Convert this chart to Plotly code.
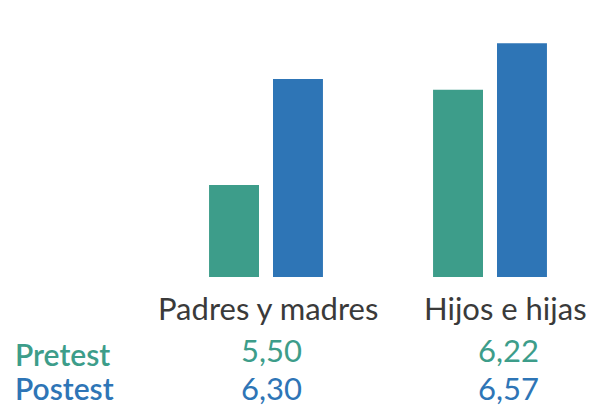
import plotly.graph_objects as go

categories = ["Padres y madres", "Hijos e hijas"]
series_names = ["Pretest", "Postest"]
pretest = [5.50, 6.22]
postest = [6.30, 6.57]
value_labels_pre = ["5,50", "6,22"]
value_labels_post = ["6,30", "6,57"]

GREEN = "#3D9D8A"
BLUE = "#2E75B6"
GRAY = "#3A3A3A"
FONT = "Lato"

fig = go.Figure()
fig.add_trace(go.Bar(x=categories, y=pretest, name=series_names[0], marker=dict(color=GREEN, line=dict(width=0))))
fig.add_trace(go.Bar(x=categories, y=postest, name=series_names[1], marker=dict(color=BLUE, line=dict(width=0))))

ann = []
label_shift = [2, 15]
val_shift = [5, 18]
for i, c in enumerate(categories):
    ann.append(dict(x=c, y=0, xref="x", yref="paper", text=c, showarrow=False,
                    xshift=label_shift[i], yshift=-31, yanchor="middle",
                    font=dict(family=FONT, size=31, color=GRAY)))
    ann.append(dict(x=c, y=0, xref="x", yref="paper", text=value_labels_pre[i], showarrow=False,
                    xshift=val_shift[i], yshift=-73, yanchor="middle",
                    font=dict(family=FONT, size=31, color=GREEN)))
    ann.append(dict(x=c, y=0, xref="x", yref="paper", text=value_labels_post[i], showarrow=False,
                    xshift=val_shift[i], yshift=-111, yanchor="middle",
                    font=dict(family=FONT, size=31, color=BLUE)))
for name, col, ys in [(series_names[0], GREEN, -77), (series_names[1], BLUE, -111)]:
    ann.append(dict(x=(5 - 146) / 448, y=0, xref="paper", yref="paper", text=name,
                    showarrow=False, xanchor="left", yanchor="middle", yshift=ys,
                    font=dict(family=FONT, size=30, color=col, weight=600)))

fig.update_layout(
    width=595, height=408,
    margin=dict(l=146, r=1, t=0, b=139),
    paper_bgcolor="white", plot_bgcolor="white",
    barmode="group", bargap=0.429, bargroupgap=0.219,
    showlegend=False,
    xaxis=dict(showticklabels=False, showgrid=False, zeroline=False, showline=False, ticks=""),
    yaxis=dict(range=[4.806, 6.836], showticklabels=False, showgrid=False, zeroline=False, showline=False),
    annotations=ann,
)
fig.write_html("out.html")
